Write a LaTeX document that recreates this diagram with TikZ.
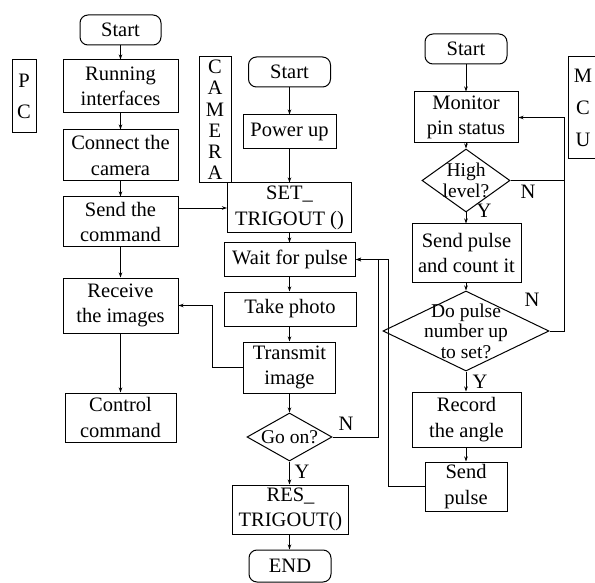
\documentclass[tikz,border=0pt]{standalone}
\usepackage{fontspec}
\setmainfont{Liberation Serif}
\usetikzlibrary{arrows.meta, positioning, calc, shapes.geometric}

\begin{document}
\begin{tikzpicture}[
		x=1pt, y=-1pt, % coordenadas en pixeles, y hacia abajo
		% --- Estilos ---
		caja/.style={
			draw,
			rectangle,
			inner sep=0pt,
			align=center,
			line width=1pt,
			font=\fontsize{20.5}{25.5}\selectfont
		},
		caja_inicio/.style={
			caja,
			rounded corners=8pt
		},
		rombo/.style={
			draw,
			diamond,
			inner sep=0pt,
			line width=1pt
		},
		texto_rombo/.style={
			align=center,
			inner sep=0pt,
			font=\fontsize{19.5}{20.5}\selectfont
		},
		flecha/.style={
			-{Stealth[length=5pt, width=3.5pt]},
			line width=0.9pt
		},
		linea/.style={
			line width=0.9pt
		},
		respuesta/.style={
			inner sep=0pt,
			font=\fontsize{20.5}{24}\selectfont
		}
		]
		\clip (0,0) rectangle (595,583);
		
		% 1. Etiquetas de cada bloque
		\node[caja, minimum width=24pt, minimum height=73pt] (etq_pc) at (24,96.5) {P\\[6pt]C};
		\node[caja, minimum width=32pt, minimum height=126pt, font=\fontsize{20.5}{21.2}\selectfont] (etq_camara) at (215,120) {C\\A\\M\\E\\R\\A};
		\node[caja, minimum width=30pt, minimum height=102pt] (etq_mcu) at (583,108) {M\\[6.5pt]C\\[6.5pt]U};
		
		% 2. Columna PC
		\node[caja_inicio, minimum width=81pt, minimum height=30pt] (pc_inicio) at (120.5,30) {Start};
		\node[caja, minimum width=115pt, minimum height=53pt] (pc_interfaz) at (120.5,86.5) {Running\\interfaces};
		\node[caja, minimum width=115pt, minimum height=51pt] (pc_conecta) at (120.5,155.5) {Connect the\\camera};
		\node[caja, minimum width=115pt, minimum height=50pt] (pc_comando) at (120.5,222) {Send the\\command};
		\node[caja, minimum width=115pt, minimum height=55pt] (pc_recibe) at (120.5,305.5) {Receive\\the images};
		\node[caja, minimum width=111pt, minimum height=49pt] (pc_control) at (120.5,417.5) {Control\\command};
		
		% 3. Columna camara
		\node[caja_inicio, minimum width=82pt, minimum height=30pt] (cam_inicio) at (289.5,72) {Start};
		\node[caja, minimum width=93pt, minimum height=34pt] (cam_enciende) at (289.5,132) {Power up};
		\node[caja, minimum width=124pt, minimum height=50pt] (cam_set) at (289.5,208) {SET\_\\TRIGOUT ()};
		\node[caja, minimum width=131pt, minimum height=33pt] (cam_espera) at (290,259.5) {Wait for pulse};
		\node[caja, minimum width=132pt, minimum height=34pt] (cam_foto) at (290,309) {Take photo};
		\node[caja, minimum width=92pt, minimum height=51pt] (cam_transmite) at (289.5,367.5) {Transmit\\image};
		\node[rombo, minimum width=85pt, minimum height=48pt,
		label={[texto_rombo]center:Go on?}] (cam_seguir) at (289.5,437) {};
		\node[caja, minimum width=116pt, minimum height=49pt] (cam_res) at (290.5,509.5) {RES\_\\TRIGOUT()};
		\node[caja_inicio, minimum width=82pt, minimum height=32pt] (cam_fin) at (290,566) {END};
		
		% 4. Columna MCU
		\node[caja_inicio, minimum width=82pt, minimum height=30pt] (mcu_inicio) at (466,49) {Start};
		\node[caja, minimum width=104pt, minimum height=51pt] (mcu_monitor) at (466,117.5) {Monitor\\pin status};
		\node[rombo, minimum width=88pt, minimum height=63pt,
		label={[texto_rombo]center:High\\level?}] (mcu_alto) at (466,180.5) {};
		\node[caja, minimum width=109pt, minimum height=58pt] (mcu_cuenta) at (466.5,253) {Send pulse\\and count it};
		\node[rombo, minimum width=166pt, minimum height=80pt,
		label={[texto_rombo]center:Do pulse\\number up\\to set?}] (mcu_cuenta_ok) at (466,331) {};
		\node[caja, minimum width=109pt, minimum height=55pt] (mcu_angulo) at (466.5,419.5) {Record\\the angle};
		\node[caja, minimum width=82pt, minimum height=49pt] (mcu_envia) at (466,486.5) {Send\\pulse};
		
		% 5. Respuestas de las decisiones
		\node[respuesta] (cam_seguir_n) at (346,424) {N};
		\node[respuesta] (cam_seguir_y) at (302,472) {Y};
		\node[respuesta] (mcu_alto_n) at (528,192) {N};
		\node[respuesta] (mcu_alto_y) at (484,211) {Y};
		\node[respuesta] (mcu_cuenta_n) at (532,300) {N};
		\node[respuesta] (mcu_cuenta_y) at (480,382) {Y};
		
		% 6. Flechas verticales
		\draw[flecha] (pc_inicio) -- (pc_interfaz);
		\draw[flecha] (pc_interfaz) -- (pc_conecta);
		\draw[flecha] (pc_conecta) -- (pc_comando);
		\draw[flecha] (pc_comando) -- (pc_recibe);
		\draw[flecha] (pc_recibe) -- (pc_control);
		
		\draw[flecha] (cam_inicio) -- (cam_enciende);
		\draw[flecha] (cam_enciende) -- (cam_set);
		\draw[flecha] (cam_set.south) -- (cam_set.south |- cam_espera.north);
		\draw[flecha] (cam_set.south |- cam_espera.south) -- (cam_set.south |- cam_foto.north);
		\draw[flecha] (cam_set.south |- cam_foto.south) -- (cam_transmite.north);
		\draw[flecha] (cam_transmite) -- (cam_seguir);
		\draw[flecha] (cam_seguir.south) -- (cam_seguir.south |- cam_res.north);
		\draw[flecha] (cam_seguir.south |- cam_res.south) -- (cam_seguir.south |- cam_fin.north);
		
		\draw[flecha] (mcu_inicio) -- (mcu_monitor);
		\draw[flecha] (mcu_monitor) -- (mcu_alto);
		\draw[flecha] (mcu_alto.south) -- (mcu_alto.south |- mcu_cuenta.north);
		\draw[flecha] (mcu_alto.south |- mcu_cuenta.south) -- (mcu_cuenta_ok.north);
		\draw[flecha] (mcu_cuenta_ok.south) -- (mcu_cuenta_ok.south |- mcu_angulo.north);
		\draw[flecha] (mcu_cuenta_ok.south |- mcu_angulo.south) -- (mcu_envia.north);
		
		% 7. Enlaces entre bloques y bucles
		\draw[flecha] (pc_comando.east |- cam_set.west) -- (cam_set.west);
		\draw[flecha] (cam_transmite.west) -- ++(-31,0) |- (pc_recibe.east);
		\draw[flecha] (cam_seguir.east) -- ++(46,0) |- (cam_espera.east);
		\draw[flecha] (mcu_envia.west) -- ++(-36,0) |- (cam_espera.east);
		\draw[flecha] (mcu_alto.east) -- ++(54,0) coordinate (mcu_retorno) |- (mcu_monitor.east);
		\draw[linea] (mcu_cuenta_ok.east) -| (mcu_retorno);
		
	\end{tikzpicture}
\end{document}
